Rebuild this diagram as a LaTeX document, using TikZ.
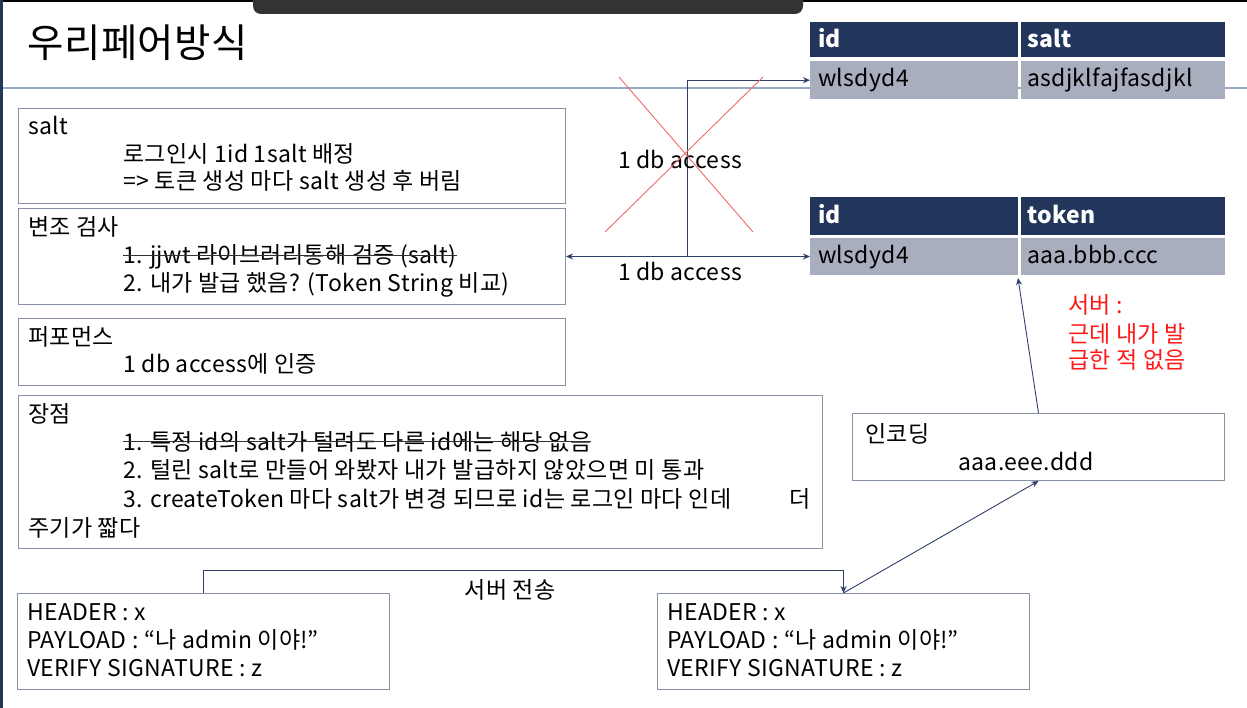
\documentclass[tikz,border=0pt]{standalone}
\usepackage{fontspec}
\setmainfont{Noto Sans CJK KR}[LetterSpace=1.5]
\usetikzlibrary{arrows.meta,calc}
\definecolor{navy}{HTML}{22355B}
\definecolor{cellgray}{HTML}{A8AEBD}
\definecolor{boxc}{HTML}{8792A6}
\definecolor{arrc}{HTML}{2F4068}
\definecolor{divc}{HTML}{9AAAC5}
\definecolor{barc}{HTML}{333333}
\definecolor{redc}{HTML}{FF1A1A}
\definecolor{xred}{HTML}{F06A6A}
\tikzset{
  box/.style={draw=boxc,line width=1pt,anchor=north west,inner sep=0pt},
  txt/.style={anchor=base west,inner sep=0pt,font=\fontsize{23}{27}\selectfont},
  hcell/.style={fill=navy,anchor=north west,inner sep=0pt},
  bcell/.style={fill=cellgray,anchor=north west,inner sep=0pt},
  htxt/.style={anchor=base west,inner sep=0pt,text=white,font=\fontsize{23}{27}\selectfont\bfseries},
  ctxt/.style={inner sep=0pt,font=\fontsize{23}{27}\selectfont},
  conn/.style={draw=arrc,line width=0.9pt},
  tip/.style={-{Stealth[length=7pt,width=6pt]}},
  strike/.style={draw=black!80,line width=1pt}
}
\begin{document}
\begin{tikzpicture}[x=1pt,y=-1pt]
\useasboundingbox (0,0) rectangle (1247,708);
\fill[white] (0,0) rectangle (1247,708);
% frame details
\fill[black] (0,0) rectangle (1247,2);
\fill[barc,rounded corners=8pt] (253,-12) rectangle (803,14);
\fill[navy] (0,0) rectangle (3,708);
\draw[divc,line width=1.2pt] (3,88) -- (1247,88);
% title
\node[anchor=base west,inner sep=0pt,font=\fontsize{39.5}{44}\selectfont] (title) at (27,58) {우리페어방식};

% table 1
\node[hcell,minimum width=208pt,minimum height=35pt] (t1h1) at (810,22) {};
\node[hcell,minimum width=204pt,minimum height=35pt] (t1h2) at (1021,22) {};
\node[bcell,minimum width=208pt,minimum height=38pt] (t1b1) at (810,61) {};
\node[bcell,minimum width=204pt,minimum height=38pt] (t1b2) at (1021,61) {};
\node[htxt] at (818,48) {id};
\node[htxt] at (1027,48) {salt};
\node[txt] at (818,87) {wlsdyd4};
\node[txt] at (1027,87) {asdjklfajfasdjkl};

% table 2
\node[hcell,minimum width=208pt,minimum height=38pt] (t2h1) at (810,197) {};
\node[hcell,minimum width=204pt,minimum height=38pt] (t2h2) at (1021,197) {};
\node[bcell,minimum width=208pt,minimum height=37pt] (t2b1) at (810,238) {};
\node[bcell,minimum width=204pt,minimum height=37pt] (t2b2) at (1021,238) {};
\node[htxt] at (818,224) {id};
\node[htxt] at (1027,224) {token};
\node[txt] at (818,264) {wlsdyd4};
\node[txt] at (1027,264) {aaa.bbb.ccc};

% left boxes
\node[box,minimum width=547pt,minimum height=95pt] (saltbox) at (18,108) {};
\node[txt] at (28,135) {salt};
\node[txt] at (123,163) {로그인시 1id 1salt 배정};
\node[txt] at (123,190) {=> 토큰 생성 마다 salt 생성 후 버림};

\node[box,minimum width=547pt,minimum height=96pt] (check) at (18,208) {};
\node[txt] at (28,236) {변조 검사};
\node[txt] (s1) at (123,264) {1. jjwt 라이브러리통해 검증 (salt)};
\draw[strike] ([yshift=8.5pt]s1.base west) -- ([yshift=8.5pt]s1.base east);
\node[txt] at (123,292) {2. 내가 발급 했음? (Token String 비교)};

\node[box,minimum width=547pt,minimum height=67pt] (perf) at (18,318) {};
\node[txt] at (28,346) {퍼포먼스};
\node[txt] at (123,373) {1 db access에 인증};

\node[box,minimum width=804pt,minimum height=153pt] (merit) at (18,395) {};
\node[txt] at (28,422) {장점};
\node[txt] (s2) at (123,450) {1. 특정 id의 salt가 털려도 다른 id에는 해당 없음};
\draw[strike] ([yshift=8.5pt]s2.base west) -- ([yshift=8.5pt]s2.base east);
\node[txt] at (123,478) {2. 털린 salt로 만들어 와봤자 내가 발급하지 않았으면 미 통과};
\node[txt] at (123,507) {3. createToken 마다 salt가 변경 되므로 id는 로그인 마다 인데};
\node[txt] at (789,507) {더};
\node[txt] at (28,536) {주기가 짧다};

% encoding box
\node[box,minimum width=372pt,minimum height=67pt] (enc) at (852,413) {};
\node[txt] at (865,442) {인코딩};
\node[txt] at (958,470) {aaa.eee.ddd};

% red note
\node[txt,text=redc] at (1068,314) {서버 :};
\node[txt,text=redc] at (1068,342) {근데 내가 발};
\node[txt,text=redc] at (1068,369) {급한 적 없음};

% bottom boxes
\node[box,minimum width=372pt,minimum height=96pt] (lb) at (17,593) {};
\node[txt] at (27,620) {HEADER : x};
\node[txt] at (27,648) {PAYLOAD : “나 admin 이야!”};
\node[txt] at (27,676) {VERIFY SIGNATURE : z};
\node[box,minimum width=372pt,minimum height=96pt] (rb) at (657,593) {};
\node[txt] at (667,620) {HEADER : x};
\node[txt] at (667,648) {PAYLOAD : “나 admin 이야!”};
\node[txt] at (667,676) {VERIFY SIGNATURE : z};
\node[ctxt] (send) at (510,590) {서버 전송};

% connectors
\coordinate (j) at (687,257);
\draw[conn,{Stealth[length=7pt,width=6pt]}-{Stealth[length=7pt,width=6pt]}] (check.east) -- (check.east -| t2b1.west);
\draw[conn,tip] (j) |- (t1b1.west);
\node[ctxt] (acc1) at (680,159) {1 db access};
\node[ctxt] (acc2) at (680,271) {1 db access};
\coordinate (x1) at (619,77);
\coordinate (x2) at (753,232);
\coordinate (x3) at (763,77);
\coordinate (x4) at (605,232);
\draw[xred,line width=0.9pt] (x1) -- (x2);
\draw[xred,line width=0.9pt] (x3) -- (x4);
\coordinate (t2tip) at (1018,278);
\draw[conn,tip] (enc.north) -- (t2tip);
\draw[conn,tip] (rb.north) -- (enc.south);
\draw[conn,tip] (lb.north) -- ++(0,-23) -| (rb.north);
\end{tikzpicture}
\end{document}
